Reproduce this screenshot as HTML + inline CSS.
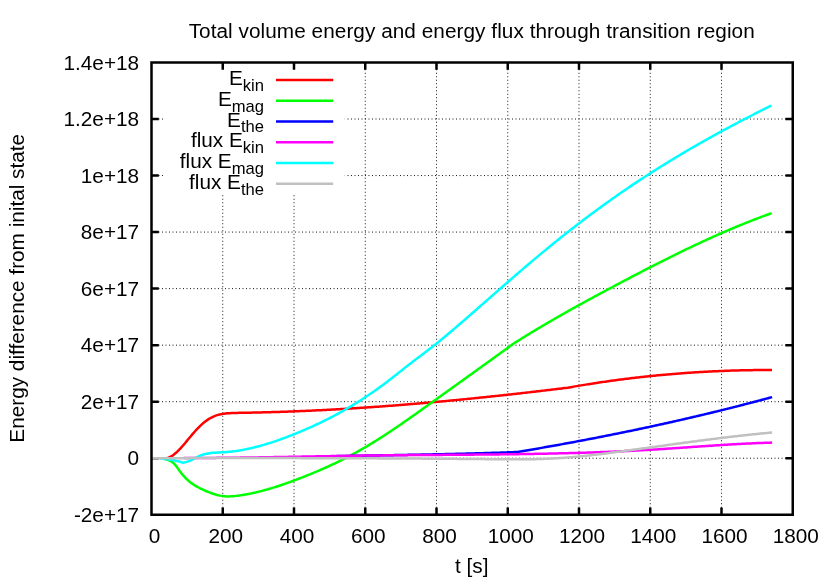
<!DOCTYPE html>
<html><head><meta charset="utf-8"><title>plot</title>
<style>
html,body{margin:0;padding:0;background:#fff;}
body{width:830px;height:581px;overflow:hidden;}
svg{display:block;will-change:transform;font-family:"Liberation Sans",sans-serif;fill:#000;}
.g{stroke:#000;stroke-width:1;stroke-dasharray:1 2.5;fill:none;opacity:.92}
.c{fill:none;stroke-width:2.5;stroke-linejoin:round;stroke-linecap:butt}
.t{stroke:#000;stroke-width:2.5;fill:none}
text{font-size:20.75px}
</style></head><body>
<svg width="830" height="581" viewBox="0 0 830 581">
<rect width="830" height="581" fill="#fff"/>
<path class="g" d="M222.75,514.75V62.5 M294.00,514.75V62.5 M365.25,514.75V62.5 M436.50,514.75V62.5 M507.75,514.75V62.5 M579.00,514.75V62.5 M650.25,514.75V62.5 M721.50,514.75V62.5 M151.5,458.22H792.75 M151.5,401.69H792.75 M151.5,345.16H792.75 M151.5,288.62H792.75 M151.5,232.09H792.75 M151.5,175.56H792.75 M151.5,119.03H792.75"/>
<rect x="163.3" y="64" width="181.5" height="130.3" fill="#fff"/>
<path class="t" d="M222.75,514.75v-7.3M222.75,62.5v7.3 M294.00,514.75v-7.3M294.00,62.5v7.3 M365.25,514.75v-7.3M365.25,62.5v7.3 M436.50,514.75v-7.3M436.50,62.5v7.3 M507.75,514.75v-7.3M507.75,62.5v7.3 M579.00,514.75v-7.3M579.00,62.5v7.3 M650.25,514.75v-7.3M650.25,62.5v7.3 M721.50,514.75v-7.3M721.50,62.5v7.3 M151.5,458.22h7.3M792.75,458.22h-7.3 M151.5,401.69h7.3M792.75,401.69h-7.3 M151.5,345.16h7.3M792.75,345.16h-7.3 M151.5,288.62h7.3M792.75,288.62h-7.3 M151.5,232.09h7.3M792.75,232.09h-7.3 M151.5,175.56h7.3M792.75,175.56h-7.3 M151.5,119.03h7.3M792.75,119.03h-7.3"/>
<path class="c" stroke="#ff0000" d="M164.0,458.20 L165.5,458.23 L167.0,458.03 L168.5,457.61 L170.0,456.99 L171.5,456.19 L173.0,455.21 L174.5,454.08 L176.0,452.82 L177.5,451.43 L179.0,449.93 L180.5,448.35 L182.0,446.68 L183.5,444.96 L185.0,443.19 L186.5,441.39 L188.0,439.57 L189.5,437.76 L191.0,435.95 L192.5,434.18 L194.0,432.45 L195.5,430.76 L197.0,429.14 L198.5,427.57 L200.0,426.08 L201.5,424.66 L203.0,423.33 L204.5,422.09 L206.0,420.94 L207.5,419.88 L209.0,418.92 L210.5,418.04 L212.0,417.25 L213.5,416.55 L215.0,415.92 L216.5,415.37 L218.0,414.90 L219.5,414.50 L221.0,414.16 L222.5,413.88 L224.0,413.65 L225.5,413.47 L227.0,413.33 L228.5,413.21 L230.0,413.13 L231.5,413.07 L233.0,413.02 L234.5,412.97 L236.0,412.94 L237.5,412.90 L239.0,412.87 L240.5,412.84 L242.0,412.81 L243.5,412.78 L245.0,412.75 L246.5,412.72 L248.0,412.70 L249.5,412.67 L251.0,412.64 L252.5,412.61 L254.0,412.58 L255.5,412.55 L257.0,412.51 L258.5,412.48 L260.0,412.44 L261.5,412.41 L263.0,412.37 L264.5,412.33 L266.0,412.29 L267.5,412.25 L269.0,412.21 L270.5,412.17 L272.0,412.12 L273.5,412.08 L275.0,412.03 L276.5,411.99 L278.0,411.94 L279.5,411.89 L281.0,411.84 L282.5,411.79 L284.0,411.74 L285.5,411.69 L287.0,411.63 L288.5,411.58 L290.0,411.52 L291.5,411.47 L293.0,411.41 L294.5,411.35 L296.0,411.29 L297.5,411.23 L299.0,411.17 L300.5,411.11 L302.0,411.05 L303.5,410.98 L305.0,410.92 L306.5,410.85 L308.0,410.78 L309.5,410.72 L311.0,410.65 L312.5,410.58 L314.0,410.51 L315.5,410.44 L317.0,410.36 L318.5,410.29 L320.0,410.22 L321.5,410.14 L323.0,410.06 L324.5,409.99 L326.0,409.91 L327.5,409.83 L329.0,409.75 L330.5,409.67 L332.0,409.59 L333.5,409.51 L335.0,409.42 L336.5,409.34 L338.0,409.25 L339.5,409.17 L341.0,409.08 L342.5,408.99 L344.0,408.90 L345.5,408.81 L347.0,408.72 L348.5,408.63 L350.0,408.54 L351.5,408.45 L353.0,408.36 L354.5,408.26 L356.0,408.17 L357.5,408.07 L359.0,407.97 L360.5,407.87 L362.0,407.78 L363.5,407.68 L365.0,407.58 L366.5,407.47 L368.0,407.37 L369.5,407.27 L371.0,407.17 L372.5,407.06 L374.0,406.96 L375.5,406.85 L377.0,406.74 L378.5,406.64 L380.0,406.53 L381.5,406.42 L383.0,406.31 L384.5,406.20 L386.0,406.09 L387.5,405.97 L389.0,405.86 L390.5,405.75 L392.0,405.63 L393.5,405.52 L395.0,405.40 L396.5,405.28 L398.0,405.17 L399.5,405.05 L401.0,404.93 L402.5,404.81 L404.0,404.69 L405.5,404.57 L407.0,404.44 L408.5,404.32 L410.0,404.20 L411.5,404.07 L413.0,403.95 L414.5,403.82 L416.0,403.70 L417.5,403.57 L419.0,403.44 L420.5,403.31 L422.0,403.18 L423.5,403.05 L425.0,402.92 L426.5,402.79 L428.0,402.66 L429.5,402.52 L431.0,402.39 L432.5,402.26 L434.0,402.12 L435.5,401.99 L437.0,401.85 L438.5,401.71 L440.0,401.57 L441.5,401.44 L443.0,401.30 L444.5,401.16 L446.0,401.02 L447.5,400.88 L449.0,400.73 L450.5,400.59 L452.0,400.45 L453.5,400.31 L455.0,400.16 L456.5,400.02 L458.0,399.87 L459.5,399.72 L461.0,399.58 L462.5,399.43 L464.0,399.28 L465.5,399.13 L467.0,398.98 L468.5,398.83 L470.0,398.68 L471.5,398.53 L473.0,398.38 L474.5,398.23 L476.0,398.08 L477.5,397.92 L479.0,397.77 L480.5,397.61 L482.0,397.46 L483.5,397.30 L485.0,397.15 L486.5,396.99 L488.0,396.83 L489.5,396.67 L491.0,396.51 L492.5,396.35 L494.0,396.19 L495.5,396.03 L497.0,395.87 L498.5,395.71 L500.0,395.55 L501.5,395.39 L503.0,395.22 L504.5,395.06 L506.0,394.89 L507.5,394.73 L509.0,394.56 L510.5,394.40 L512.0,394.23 L513.5,394.06 L515.0,393.90 L516.5,393.73 L518.0,393.56 L519.5,393.39 L521.0,393.22 L522.5,393.05 L524.0,392.88 L525.5,392.71 L527.0,392.54 L528.5,392.37 L530.0,392.19 L531.5,392.02 L533.0,391.85 L534.5,391.67 L536.0,391.50 L537.5,391.32 L539.0,391.15 L540.5,390.97 L542.0,390.80 L543.5,390.62 L545.0,390.44 L546.5,390.26 L548.0,390.09 L549.5,389.91 L551.0,389.73 L552.5,389.55 L554.0,389.37 L555.5,389.19 L557.0,389.01 L558.5,388.83 L560.0,388.64 L561.5,388.46 L563.0,388.28 L564.5,388.10 L566.0,387.91 L567.5,387.73 L567.7,387.70 L569.2,387.43 L570.7,387.16 L572.2,386.90 L573.7,386.64 L575.2,386.38 L576.7,386.13 L578.2,385.87 L579.7,385.62 L581.2,385.37 L582.7,385.12 L584.2,384.88 L585.7,384.63 L587.2,384.39 L588.7,384.15 L590.2,383.91 L591.7,383.68 L593.2,383.45 L594.7,383.21 L596.2,382.98 L597.7,382.76 L599.2,382.53 L600.7,382.31 L602.2,382.09 L603.7,381.87 L605.2,381.65 L606.7,381.44 L608.2,381.23 L609.7,381.02 L611.2,380.81 L612.7,380.60 L614.2,380.40 L615.7,380.19 L617.2,379.99 L618.7,379.79 L620.2,379.60 L621.7,379.40 L623.2,379.21 L624.7,379.02 L626.2,378.83 L627.7,378.65 L629.2,378.46 L630.7,378.28 L632.2,378.10 L633.7,377.92 L635.2,377.75 L636.7,377.57 L638.2,377.40 L639.7,377.23 L641.2,377.06 L642.7,376.90 L644.2,376.73 L645.7,376.57 L647.2,376.41 L648.7,376.26 L650.2,376.10 L651.7,375.95 L653.2,375.79 L654.7,375.64 L656.2,375.50 L657.7,375.35 L659.2,375.21 L660.7,375.06 L662.2,374.93 L663.7,374.79 L665.2,374.65 L666.7,374.52 L668.2,374.39 L669.7,374.26 L671.2,374.13 L672.7,374.00 L674.2,373.88 L675.7,373.76 L677.2,373.64 L678.7,373.52 L680.2,373.40 L681.7,373.29 L683.2,373.18 L684.7,373.07 L686.2,372.96 L687.7,372.85 L689.2,372.75 L690.7,372.65 L692.2,372.55 L693.7,372.45 L695.2,372.35 L696.7,372.26 L698.2,372.16 L699.7,372.07 L701.2,371.99 L702.7,371.90 L704.2,371.81 L705.7,371.73 L707.2,371.65 L708.7,371.57 L710.2,371.50 L711.7,371.42 L713.2,371.35 L714.7,371.28 L716.2,371.21 L717.7,371.14 L719.2,371.08 L720.7,371.01 L722.2,370.95 L723.7,370.89 L725.2,370.83 L726.7,370.78 L728.2,370.72 L729.7,370.67 L731.2,370.62 L732.7,370.58 L734.2,370.53 L735.7,370.49 L737.2,370.44 L738.7,370.40 L740.2,370.36 L741.7,370.33 L743.2,370.29 L744.7,370.26 L746.2,370.23 L747.7,370.20 L749.2,370.17 L750.7,370.15 L752.2,370.13 L753.7,370.10 L755.2,370.09 L756.7,370.07 L758.2,370.05 L759.7,370.04 L761.2,370.03 L762.7,370.02 L764.2,370.01 L765.7,370.00 L767.2,370.00 L768.7,370.00 L770.2,370.00 L771.7,370.00 L772.0,370.00"/>
<path class="c" stroke="#00ff00" d="M163.0,458.20 L164.5,458.80 L166.0,459.29 L167.5,459.75 L169.0,460.29 L170.5,460.99 L172.0,461.94 L173.5,463.15 L175.0,464.65 L176.5,466.47 L178.0,468.60 L179.5,470.78 L181.0,472.82 L182.5,474.69 L184.0,476.40 L185.5,477.98 L187.0,479.43 L188.5,480.77 L190.0,481.99 L191.5,483.13 L193.0,484.18 L194.5,485.16 L196.0,486.08 L197.5,486.94 L199.0,487.75 L200.5,488.51 L202.0,489.24 L203.5,489.93 L205.0,490.59 L206.5,491.24 L208.0,491.86 L209.5,492.45 L211.0,493.01 L212.5,493.55 L214.0,494.04 L215.5,494.50 L217.0,494.92 L218.5,495.29 L220.0,495.61 L221.5,495.88 L223.0,496.09 L224.5,496.24 L226.0,496.34 L227.5,496.40 L229.0,496.40 L230.5,496.37 L232.0,496.29 L233.5,496.18 L235.0,496.05 L236.5,495.88 L238.0,495.70 L239.5,495.50 L241.0,495.28 L242.5,495.05 L244.0,494.80 L245.5,494.54 L247.0,494.27 L248.5,493.99 L250.0,493.69 L251.5,493.38 L253.0,493.06 L254.5,492.72 L256.0,492.38 L257.5,492.02 L259.0,491.65 L260.5,491.27 L262.0,490.88 L263.5,490.48 L265.0,490.07 L266.5,489.65 L268.0,489.23 L269.5,488.79 L271.0,488.34 L272.5,487.88 L274.0,487.42 L275.5,486.95 L277.0,486.47 L278.5,485.98 L280.0,485.48 L281.5,484.98 L283.0,484.47 L284.5,483.95 L286.0,483.43 L287.5,482.90 L289.0,482.36 L290.5,481.82 L292.0,481.27 L293.5,480.72 L295.0,480.17 L296.5,479.61 L298.0,479.04 L299.5,478.47 L301.0,477.89 L302.5,477.31 L304.0,476.72 L305.5,476.13 L307.0,475.53 L308.5,474.93 L310.0,474.32 L311.5,473.71 L313.0,473.09 L314.5,472.46 L316.0,471.83 L317.5,471.19 L319.0,470.55 L320.5,469.90 L322.0,469.24 L323.5,468.58 L325.0,467.91 L326.5,467.24 L328.0,466.56 L329.5,465.87 L331.0,465.17 L332.5,464.47 L334.0,463.76 L335.5,463.04 L337.0,462.32 L338.5,461.59 L340.0,460.85 L341.5,460.10 L343.0,459.35 L344.5,458.59 L346.0,457.82 L347.5,457.05 L349.0,456.26 L350.5,455.47 L352.0,454.67 L353.5,453.87 L355.0,453.05 L356.5,452.23 L358.0,451.39 L359.5,450.55 L361.0,449.70 L362.5,448.85 L364.0,447.98 L365.5,447.10 L367.0,446.22 L368.5,445.33 L370.0,444.43 L371.5,443.52 L373.0,442.60 L374.5,441.68 L376.0,440.74 L377.5,439.80 L379.0,438.86 L380.5,437.90 L382.0,436.94 L383.5,435.97 L385.0,435.00 L386.5,434.02 L388.0,433.03 L389.5,432.04 L391.0,431.04 L392.5,430.04 L394.0,429.03 L395.5,428.01 L397.0,426.99 L398.5,425.97 L400.0,424.94 L401.5,423.91 L403.0,422.87 L404.5,421.83 L406.0,420.79 L407.5,419.74 L409.0,418.69 L410.5,417.64 L412.0,416.58 L413.5,415.52 L415.0,414.46 L416.5,413.40 L418.0,412.33 L419.5,411.26 L421.0,410.19 L422.5,409.12 L424.0,408.05 L425.5,406.98 L427.0,405.90 L428.5,404.83 L430.0,403.75 L431.5,402.68 L433.0,401.60 L434.5,400.52 L436.0,399.45 L437.5,398.37 L439.0,397.30 L440.5,396.22 L442.0,395.15 L443.5,394.07 L445.0,393.00 L446.5,391.92 L448.0,390.85 L449.5,389.78 L451.0,388.70 L452.5,387.63 L454.0,386.55 L455.5,385.48 L457.0,384.40 L458.5,383.33 L460.0,382.25 L461.5,381.18 L463.0,380.11 L464.5,379.03 L466.0,377.95 L467.5,376.88 L469.0,375.80 L470.5,374.73 L472.0,373.65 L473.5,372.57 L475.0,371.50 L476.5,370.42 L478.0,369.34 L479.5,368.26 L481.0,367.18 L482.5,366.10 L484.0,365.02 L485.5,363.94 L487.0,362.86 L488.5,361.78 L490.0,360.70 L491.5,359.62 L493.0,358.53 L494.5,357.45 L496.0,356.36 L497.5,355.28 L499.0,354.19 L500.5,353.10 L502.0,352.01 L503.5,350.92 L505.0,349.83 L506.5,348.74 L508.0,347.65 L509.5,346.56 L511.0,345.46 L512.5,344.37 L513.0,344.00 L514.5,343.02 L516.0,342.07 L517.5,341.13 L519.0,340.19 L520.5,339.25 L522.0,338.31 L523.5,337.38 L525.0,336.46 L526.5,335.53 L528.0,334.62 L529.5,333.70 L531.0,332.79 L532.5,331.88 L534.0,330.97 L535.5,330.07 L537.0,329.17 L538.5,328.28 L540.0,327.38 L541.5,326.49 L543.0,325.61 L544.5,324.72 L546.0,323.84 L547.5,322.97 L549.0,322.09 L550.5,321.22 L552.0,320.35 L553.5,319.48 L555.0,318.62 L556.5,317.76 L558.0,316.90 L559.5,316.05 L561.0,315.19 L562.5,314.34 L564.0,313.49 L565.5,312.65 L567.0,311.80 L568.5,310.96 L570.0,310.12 L571.5,309.28 L573.0,308.45 L574.5,307.62 L576.0,306.78 L577.5,305.95 L579.0,305.13 L580.5,304.30 L582.0,303.48 L583.5,302.65 L585.0,301.83 L586.5,301.01 L588.0,300.20 L589.5,299.38 L591.0,298.57 L592.5,297.75 L594.0,296.94 L595.5,296.13 L597.0,295.32 L598.5,294.51 L600.0,293.71 L601.5,292.90 L603.0,292.10 L604.5,291.29 L606.0,290.49 L607.5,289.69 L609.0,288.89 L610.5,288.09 L612.0,287.29 L613.5,286.49 L615.0,285.69 L616.5,284.90 L618.0,284.10 L619.5,283.30 L621.0,282.51 L622.5,281.72 L624.0,280.92 L625.5,280.13 L627.0,279.34 L628.5,278.55 L630.0,277.77 L631.5,276.98 L633.0,276.19 L634.5,275.41 L636.0,274.63 L637.5,273.85 L639.0,273.07 L640.5,272.29 L642.0,271.51 L643.5,270.73 L645.0,269.96 L646.5,269.19 L648.0,268.41 L649.5,267.64 L651.0,266.88 L652.5,266.11 L654.0,265.34 L655.5,264.58 L657.0,263.82 L658.5,263.06 L660.0,262.30 L661.5,261.54 L663.0,260.79 L664.5,260.04 L666.0,259.29 L667.5,258.54 L669.0,257.79 L670.5,257.05 L672.0,256.30 L673.5,255.56 L675.0,254.82 L676.5,254.09 L678.0,253.35 L679.5,252.62 L681.0,251.89 L682.5,251.16 L684.0,250.44 L685.5,249.72 L687.0,248.99 L688.5,248.28 L690.0,247.56 L691.5,246.85 L693.0,246.14 L694.5,245.43 L696.0,244.72 L697.5,244.02 L699.0,243.32 L700.5,242.62 L702.0,241.93 L703.5,241.23 L705.0,240.54 L706.5,239.86 L708.0,239.17 L709.5,238.49 L711.0,237.81 L712.5,237.14 L714.0,236.47 L715.5,235.80 L717.0,235.13 L718.5,234.47 L720.0,233.81 L721.5,233.15 L723.0,232.49 L724.5,231.84 L726.0,231.20 L727.5,230.55 L729.0,229.91 L730.5,229.27 L732.0,228.64 L733.5,228.01 L735.0,227.38 L736.5,226.75 L738.0,226.13 L739.5,225.51 L741.0,224.90 L742.5,224.29 L744.0,223.68 L745.5,223.08 L747.0,222.48 L748.5,221.88 L750.0,221.29 L751.5,220.70 L753.0,220.12 L754.5,219.54 L756.0,218.96 L757.5,218.39 L759.0,217.82 L760.5,217.25 L762.0,216.69 L763.5,216.13 L765.0,215.58 L766.5,215.03 L768.0,214.49 L769.5,213.95 L771.0,213.41 L771.6,213.19"/>
<path class="c" stroke="#0000ff" d="M330.0,456.25 L331.5,456.22 L333.0,456.19 L334.5,456.17 L336.0,456.14 L337.5,456.11 L339.0,456.09 L340.5,456.06 L342.0,456.03 L343.5,456.01 L345.0,455.98 L346.5,455.95 L348.0,455.93 L349.5,455.90 L351.0,455.87 L352.5,455.85 L354.0,455.82 L355.5,455.80 L357.0,455.77 L358.5,455.74 L360.0,455.72 L361.5,455.69 L363.0,455.67 L364.5,455.64 L366.0,455.61 L367.5,455.59 L369.0,455.56 L370.5,455.54 L372.0,455.51 L373.5,455.48 L375.0,455.46 L376.5,455.43 L378.0,455.41 L379.5,455.38 L381.0,455.35 L382.5,455.33 L384.0,455.30 L385.5,455.28 L387.0,455.25 L388.5,455.22 L390.0,455.20 L391.5,455.17 L393.0,455.14 L394.5,455.12 L396.0,455.09 L397.5,455.06 L399.0,455.04 L400.5,455.01 L402.0,454.98 L403.5,454.96 L405.0,454.93 L406.5,454.90 L408.0,454.87 L409.5,454.84 L411.0,454.82 L412.5,454.79 L414.0,454.76 L415.5,454.73 L417.0,454.70 L418.5,454.67 L420.0,454.64 L421.5,454.61 L423.0,454.58 L424.5,454.55 L426.0,454.52 L427.5,454.49 L429.0,454.46 L430.5,454.43 L432.0,454.40 L433.5,454.37 L435.0,454.34 L436.5,454.30 L438.0,454.27 L439.5,454.24 L441.0,454.21 L442.5,454.17 L444.0,454.14 L445.5,454.11 L447.0,454.07 L448.5,454.04 L450.0,454.00 L451.5,453.97 L453.0,453.93 L454.5,453.90 L456.0,453.86 L457.5,453.82 L459.0,453.79 L460.5,453.75 L462.0,453.71 L463.5,453.67 L465.0,453.64 L466.5,453.60 L468.0,453.56 L469.5,453.52 L471.0,453.48 L472.5,453.44 L474.0,453.40 L475.5,453.36 L477.0,453.31 L478.5,453.27 L480.0,453.23 L481.5,453.19 L483.0,453.14 L484.5,453.10 L486.0,453.05 L487.5,453.01 L489.0,452.96 L490.5,452.92 L492.0,452.87 L493.5,452.82 L495.0,452.78 L496.5,452.73 L498.0,452.68 L499.5,452.63 L501.0,452.58 L502.5,452.53 L504.0,452.48 L505.5,452.43 L507.0,452.38 L508.5,452.33 L510.0,452.27 L511.5,452.22 L513.0,452.17 L514.5,452.11 L516.0,452.06 L517.5,452.00 L519.0,451.75 L520.5,451.49 L522.0,451.24 L523.5,450.98 L525.0,450.73 L526.5,450.47 L528.0,450.22 L529.5,449.96 L531.0,449.70 L532.5,449.44 L534.0,449.18 L535.5,448.92 L537.0,448.66 L538.5,448.40 L540.0,448.14 L541.5,447.87 L543.0,447.61 L544.5,447.34 L546.0,447.08 L547.5,446.81 L549.0,446.55 L550.5,446.28 L552.0,446.01 L553.5,445.74 L555.0,445.47 L556.5,445.20 L558.0,444.93 L559.5,444.66 L561.0,444.39 L562.5,444.11 L564.0,443.84 L565.5,443.56 L567.0,443.29 L568.5,443.01 L570.0,442.73 L571.5,442.45 L573.0,442.18 L574.5,441.90 L576.0,441.62 L577.5,441.33 L579.0,441.05 L580.5,440.77 L582.0,440.49 L583.5,440.20 L585.0,439.92 L586.5,439.63 L588.0,439.34 L589.5,439.06 L591.0,438.77 L592.5,438.48 L594.0,438.19 L595.5,437.90 L597.0,437.61 L598.5,437.31 L600.0,437.02 L601.5,436.73 L603.0,436.43 L604.5,436.14 L606.0,435.84 L607.5,435.54 L609.0,435.24 L610.5,434.94 L612.0,434.64 L613.5,434.34 L615.0,434.04 L616.5,433.74 L618.0,433.43 L619.5,433.13 L621.0,432.83 L622.5,432.52 L624.0,432.21 L625.5,431.90 L627.0,431.60 L628.5,431.29 L630.0,430.98 L631.5,430.66 L633.0,430.35 L634.5,430.04 L636.0,429.72 L637.5,429.41 L639.0,429.09 L640.5,428.78 L642.0,428.46 L643.5,428.14 L645.0,427.82 L646.5,427.50 L648.0,427.18 L649.5,426.86 L651.0,426.53 L652.5,426.21 L654.0,425.88 L655.5,425.56 L657.0,425.23 L658.5,424.90 L660.0,424.57 L661.5,424.24 L663.0,423.91 L664.5,423.58 L666.0,423.25 L667.5,422.91 L669.0,422.58 L670.5,422.24 L672.0,421.91 L673.5,421.57 L675.0,421.23 L676.5,420.89 L678.0,420.55 L679.5,420.21 L681.0,419.87 L682.5,419.52 L684.0,419.18 L685.5,418.83 L687.0,418.49 L688.5,418.14 L690.0,417.79 L691.5,417.44 L693.0,417.09 L694.5,416.74 L696.0,416.39 L697.5,416.03 L699.0,415.68 L700.5,415.32 L702.0,414.97 L703.5,414.61 L705.0,414.25 L706.5,413.89 L708.0,413.53 L709.5,413.17 L711.0,412.80 L712.5,412.44 L714.0,412.08 L715.5,411.71 L717.0,411.34 L718.5,410.97 L720.0,410.61 L721.5,410.23 L723.0,409.86 L724.5,409.49 L726.0,409.12 L727.5,408.74 L729.0,408.37 L730.5,407.99 L732.0,407.61 L733.5,407.23 L735.0,406.85 L736.5,406.47 L738.0,406.09 L739.5,405.71 L741.0,405.32 L742.5,404.94 L744.0,404.55 L745.5,404.16 L747.0,403.77 L748.5,403.38 L750.0,402.99 L751.5,402.60 L753.0,402.21 L754.5,401.81 L756.0,401.42 L757.5,401.02 L759.0,400.62 L760.5,400.22 L762.0,399.82 L763.5,399.42 L765.0,399.02 L766.5,398.62 L768.0,398.21 L769.5,397.81 L771.0,397.40 L772.1,397.10"/>
<path class="c" stroke="#ff00ff" d="M184.0,458.00 L185.5,458.00 L187.0,458.00 L188.5,458.00 L190.0,458.00 L191.5,458.00 L193.0,457.99 L194.5,457.99 L196.0,457.99 L197.5,457.98 L199.0,457.98 L200.5,457.97 L202.0,457.96 L203.5,457.96 L205.0,457.95 L206.5,457.94 L208.0,457.93 L209.5,457.92 L211.0,457.91 L212.5,457.90 L214.0,457.89 L215.5,457.88 L217.0,457.87 L218.5,457.86 L220.0,457.84 L221.5,457.83 L223.0,457.82 L224.5,457.80 L226.0,457.79 L227.5,457.77 L229.0,457.76 L230.5,457.74 L232.0,457.72 L233.5,457.71 L235.0,457.69 L236.5,457.67 L238.0,457.65 L239.5,457.63 L241.0,457.61 L242.5,457.59 L244.0,457.57 L245.5,457.55 L247.0,457.53 L248.5,457.51 L250.0,457.49 L251.5,457.47 L253.0,457.45 L254.5,457.42 L256.0,457.40 L257.5,457.38 L259.0,457.36 L260.5,457.33 L262.0,457.31 L263.5,457.29 L265.0,457.26 L266.5,457.24 L268.0,457.21 L269.5,457.19 L271.0,457.16 L272.5,457.14 L274.0,457.11 L275.5,457.09 L277.0,457.06 L278.5,457.04 L280.0,457.01 L281.5,456.98 L283.0,456.96 L284.5,456.93 L286.0,456.90 L287.5,456.88 L289.0,456.85 L290.5,456.82 L292.0,456.80 L293.5,456.77 L295.0,456.74 L296.5,456.72 L298.0,456.69 L299.5,456.66 L301.0,456.63 L302.5,456.61 L304.0,456.58 L305.5,456.55 L307.0,456.53 L308.5,456.50 L310.0,456.47 L311.5,456.44 L313.0,456.42 L314.5,456.39 L316.0,456.36 L317.5,456.34 L319.0,456.31 L320.5,456.28 L322.0,456.26 L323.5,456.23 L325.0,456.20 L326.5,456.18 L328.0,456.15 L329.5,456.13 L331.0,456.10 L332.5,456.07 L334.0,456.05 L335.5,456.02 L337.0,456.00 L338.5,455.97 L340.0,455.95 L341.5,455.92 L343.0,455.90 L344.5,455.88 L346.0,455.85 L347.5,455.83 L349.0,455.81 L350.5,455.78 L352.0,455.76 L353.5,455.74 L355.0,455.72 L356.5,455.69 L358.0,455.67 L359.5,455.65 L361.0,455.63 L362.5,455.61 L364.0,455.59 L365.5,455.57 L367.0,455.55 L368.5,455.53 L370.0,455.51 L371.5,455.50 L373.0,455.48 L374.5,455.46 L376.0,455.44 L377.5,455.42 L379.0,455.41 L380.5,455.39 L382.0,455.38 L383.5,455.36 L385.0,455.34 L386.5,455.33 L388.0,455.31 L389.5,455.30 L391.0,455.28 L392.5,455.27 L394.0,455.26 L395.5,455.24 L397.0,455.23 L398.5,455.21 L400.0,455.20 L401.5,455.19 L403.0,455.17 L404.5,455.16 L406.0,455.15 L407.5,455.14 L409.0,455.12 L410.5,455.11 L412.0,455.10 L413.5,455.09 L415.0,455.08 L416.5,455.07 L418.0,455.05 L419.5,455.04 L421.0,455.03 L422.5,455.02 L424.0,455.01 L425.5,455.00 L427.0,454.99 L428.5,454.98 L430.0,454.96 L431.5,454.95 L433.0,454.94 L434.5,454.93 L436.0,454.92 L437.5,454.91 L439.0,454.90 L440.5,454.89 L442.0,454.88 L443.5,454.87 L445.0,454.86 L446.5,454.84 L448.0,454.83 L449.5,454.82 L451.0,454.81 L452.5,454.80 L454.0,454.79 L455.5,454.78 L457.0,454.77 L458.5,454.76 L460.0,454.74 L461.5,454.73 L463.0,454.72 L464.5,454.71 L466.0,454.70 L467.5,454.68 L469.0,454.67 L470.5,454.66 L472.0,454.65 L473.5,454.63 L475.0,454.62 L476.5,454.61 L478.0,454.59 L479.5,454.58 L481.0,454.57 L482.5,454.55 L484.0,454.54 L485.5,454.52 L487.0,454.51 L488.5,454.49 L490.0,454.48 L491.5,454.46 L493.0,454.45 L494.5,454.43 L496.0,454.42 L497.5,454.40 L499.0,454.38 L500.5,454.36 L502.0,454.35 L503.5,454.33 L505.0,454.31 L506.5,454.29 L508.0,454.27 L509.5,454.25 L511.0,454.23 L512.5,454.21 L514.0,454.19 L515.5,454.17 L517.0,454.15 L518.5,454.13 L520.0,454.11 L521.5,454.09 L523.0,454.06 L524.5,454.04 L526.0,454.02 L527.5,453.99 L529.0,453.97 L530.5,453.94 L532.0,453.92 L533.5,453.89 L535.0,453.87 L536.5,453.84 L538.0,453.81 L539.5,453.78 L541.0,453.76 L542.5,453.73 L544.0,453.70 L545.5,453.67 L547.0,453.64 L548.5,453.61 L550.0,453.57 L551.5,453.54 L553.0,453.51 L554.5,453.48 L556.0,453.44 L557.5,453.41 L559.0,453.37 L560.5,453.34 L562.0,453.30 L563.5,453.26 L565.0,453.23 L566.5,453.19 L568.0,453.15 L569.5,453.11 L571.0,453.07 L572.5,453.03 L574.0,452.99 L575.5,452.95 L577.0,452.90 L578.5,452.86 L580.0,452.82 L581.5,452.77 L583.0,452.72 L584.5,452.68 L586.0,452.63 L587.5,452.58 L589.0,452.53 L590.5,452.48 L592.0,452.43 L593.5,452.38 L595.0,452.33 L596.5,452.28 L598.0,452.22 L599.5,452.17 L601.0,452.11 L602.5,452.06 L604.0,452.00 L605.5,451.94 L607.0,451.88 L608.5,451.82 L610.0,451.76 L611.5,451.70 L613.0,451.64 L614.5,451.58 L616.0,451.51 L617.5,451.45 L619.0,451.38 L620.5,451.31 L622.0,451.24 L623.5,451.18 L625.0,451.11 L626.5,451.03 L628.0,450.96 L629.5,450.89 L631.0,450.81 L632.5,450.74 L634.0,450.66 L635.5,450.59 L637.0,450.51 L638.5,450.43 L640.0,450.35 L641.5,450.27 L643.0,450.18 L644.5,450.10 L646.0,450.01 L647.5,449.93 L649.0,449.84 L650.5,449.75 L652.0,449.66 L653.5,449.57 L655.0,449.48 L656.5,449.39 L658.0,449.30 L659.5,449.20 L661.0,449.11 L662.5,449.01 L664.0,448.91 L665.5,448.81 L667.0,448.72 L668.5,448.62 L670.0,448.52 L671.5,448.42 L673.0,448.32 L674.5,448.21 L676.0,448.11 L677.5,448.01 L679.0,447.91 L680.5,447.80 L682.0,447.70 L683.5,447.60 L685.0,447.49 L686.5,447.39 L688.0,447.29 L689.5,447.18 L691.0,447.08 L692.5,446.97 L694.0,446.87 L695.5,446.76 L697.0,446.66 L698.5,446.56 L700.0,446.45 L701.5,446.35 L703.0,446.25 L704.5,446.15 L706.0,446.04 L707.5,445.94 L709.0,445.84 L710.5,445.74 L712.0,445.64 L713.5,445.54 L715.0,445.44 L716.5,445.34 L718.0,445.25 L719.5,445.15 L721.0,445.05 L722.5,444.96 L724.0,444.87 L725.5,444.77 L727.0,444.68 L728.5,444.59 L730.0,444.50 L731.5,444.41 L733.0,444.32 L734.5,444.24 L736.0,444.15 L737.5,444.07 L739.0,443.99 L740.5,443.91 L742.0,443.83 L743.5,443.75 L745.0,443.67 L746.5,443.60 L748.0,443.52 L749.5,443.45 L751.0,443.38 L752.5,443.31 L754.0,443.25 L755.5,443.18 L757.0,443.12 L758.5,443.06 L760.0,443.00 L761.5,442.94 L763.0,442.89 L764.5,442.83 L766.0,442.78 L767.5,442.73 L769.0,442.69 L770.5,442.64 L772.0,442.60 L772.1,442.60"/>
<path class="c" stroke="#00ffff" d="M160.0,458.20 L161.5,458.48 L163.0,458.73 L164.5,458.96 L166.0,459.17 L167.5,459.37 L169.0,459.58 L170.5,459.79 L172.0,460.01 L173.5,460.26 L175.0,460.54 L176.5,460.86 L178.0,461.22 L179.5,461.64 L181.0,462.11 L182.5,462.66 L182.6,462.70 L184.1,462.47 L185.6,462.13 L187.1,461.71 L188.6,461.19 L190.1,460.58 L191.6,459.90 L193.1,459.17 L194.6,458.40 L196.1,457.63 L197.6,456.88 L199.1,456.17 L200.6,455.52 L202.1,454.95 L203.6,454.46 L205.1,454.05 L206.6,453.71 L208.1,453.42 L209.6,453.19 L211.1,453.00 L212.6,452.85 L214.1,452.73 L215.6,452.64 L217.1,452.56 L218.6,452.50 L220.1,452.43 L221.6,452.37 L223.1,452.29 L224.6,452.19 L226.1,452.09 L227.6,451.96 L229.1,451.82 L230.6,451.67 L232.1,451.50 L233.6,451.32 L235.1,451.12 L236.6,450.91 L238.1,450.68 L239.6,450.44 L241.1,450.19 L242.6,449.92 L244.1,449.64 L245.6,449.35 L247.1,449.04 L248.6,448.72 L250.1,448.39 L251.6,448.05 L253.1,447.70 L254.6,447.33 L256.1,446.96 L257.6,446.57 L259.1,446.17 L260.6,445.76 L262.1,445.34 L263.6,444.91 L265.1,444.46 L266.6,444.01 L268.1,443.55 L269.6,443.08 L271.1,442.60 L272.6,442.11 L274.1,441.61 L275.6,441.11 L277.1,440.59 L278.6,440.07 L280.1,439.54 L281.6,439.00 L283.1,438.45 L284.6,437.89 L286.1,437.33 L287.6,436.76 L289.1,436.18 L290.6,435.60 L292.1,435.01 L293.6,434.41 L295.1,433.81 L296.6,433.20 L298.1,432.59 L299.6,431.97 L301.1,431.34 L302.6,430.71 L304.1,430.07 L305.6,429.42 L307.1,428.77 L308.6,428.11 L310.1,427.44 L311.6,426.77 L313.1,426.09 L314.6,425.40 L316.1,424.70 L317.6,424.00 L319.1,423.29 L320.6,422.57 L322.1,421.84 L323.6,421.11 L325.1,420.37 L326.6,419.62 L328.1,418.86 L329.6,418.10 L331.1,417.32 L332.6,416.54 L334.1,415.75 L335.6,414.95 L337.1,414.15 L338.6,413.33 L340.1,412.51 L341.6,411.67 L343.1,410.83 L344.6,409.98 L346.1,409.12 L347.6,408.25 L349.1,407.37 L350.6,406.48 L352.1,405.59 L353.6,404.68 L355.1,403.76 L356.6,402.84 L358.1,401.90 L359.6,400.95 L361.1,400.00 L362.6,399.03 L364.1,398.05 L365.6,397.07 L367.1,396.07 L368.6,395.06 L370.1,394.05 L371.6,393.02 L373.1,391.98 L374.6,390.93 L376.1,389.87 L377.6,388.80 L379.1,387.71 L380.6,386.62 L382.1,385.51 L383.6,384.40 L385.1,383.27 L386.6,382.13 L388.1,380.98 L389.6,379.83 L391.1,378.67 L392.6,377.50 L394.1,376.33 L395.6,375.15 L397.1,373.97 L398.6,372.79 L400.1,371.61 L401.6,370.42 L403.1,369.24 L404.6,368.06 L406.1,366.88 L407.6,365.71 L409.1,364.54 L410.6,363.38 L412.1,362.22 L413.6,361.07 L415.1,359.93 L416.6,358.79 L418.1,357.66 L419.6,356.53 L421.1,355.40 L422.6,354.27 L424.1,353.14 L425.6,352.01 L427.1,350.87 L428.6,349.73 L430.1,348.58 L431.6,347.42 L433.1,346.25 L434.6,345.07 L436.1,343.88 L437.6,342.68 L439.1,341.47 L440.6,340.25 L442.1,339.02 L443.6,337.78 L445.1,336.53 L446.6,335.27 L448.1,334.01 L449.6,332.74 L451.1,331.47 L452.6,330.19 L454.1,328.90 L455.6,327.61 L457.1,326.32 L458.6,325.03 L460.1,323.73 L461.6,322.44 L463.1,321.14 L464.6,319.84 L466.1,318.53 L467.6,317.23 L469.1,315.92 L470.6,314.62 L472.1,313.31 L473.6,312.00 L475.1,310.69 L476.6,309.37 L478.1,308.06 L479.6,306.75 L481.1,305.43 L482.6,304.12 L484.1,302.80 L485.6,301.49 L487.1,300.17 L488.6,298.86 L490.1,297.54 L491.6,296.23 L493.1,294.91 L494.6,293.60 L496.1,292.28 L497.6,290.97 L499.1,289.66 L500.6,288.35 L502.1,287.03 L503.6,285.72 L505.1,284.42 L506.6,283.11 L508.1,281.80 L509.6,280.50 L511.1,279.19 L512.6,277.89 L514.1,276.59 L515.6,275.29 L517.1,274.00 L518.6,272.70 L520.1,271.41 L521.6,270.12 L523.1,268.84 L524.6,267.55 L526.1,266.27 L527.6,264.99 L529.1,263.72 L530.6,262.44 L532.1,261.17 L533.6,259.91 L535.1,258.64 L536.6,257.39 L538.1,256.13 L539.6,254.88 L541.1,253.63 L542.6,252.38 L544.1,251.14 L545.6,249.91 L547.1,248.67 L548.6,247.44 L550.1,246.22 L551.6,245.00 L553.1,243.78 L554.6,242.56 L556.1,241.35 L557.6,240.15 L559.1,238.95 L560.6,237.75 L562.1,236.55 L563.6,235.36 L565.1,234.18 L566.6,232.99 L568.1,231.82 L569.6,230.64 L571.1,229.47 L572.6,228.30 L574.1,227.14 L575.6,225.98 L577.1,224.82 L578.6,223.67 L580.1,222.53 L581.6,221.38 L583.1,220.24 L584.6,219.11 L586.1,217.98 L587.6,216.85 L589.1,215.72 L590.6,214.60 L592.1,213.49 L593.6,212.38 L595.1,211.27 L596.6,210.17 L598.1,209.07 L599.6,207.97 L601.1,206.88 L602.6,205.79 L604.1,204.71 L605.6,203.63 L607.1,202.55 L608.6,201.48 L610.1,200.41 L611.6,199.35 L613.1,198.29 L614.6,197.23 L616.1,196.18 L617.6,195.13 L619.1,194.09 L620.6,193.05 L622.1,192.01 L623.6,190.98 L625.1,189.95 L626.6,188.93 L628.1,187.91 L629.6,186.89 L631.1,185.88 L632.6,184.87 L634.1,183.87 L635.6,182.87 L637.1,181.87 L638.6,180.88 L640.1,179.89 L641.6,178.91 L643.1,177.93 L644.6,176.95 L646.1,175.98 L647.6,175.01 L649.1,174.04 L650.6,173.08 L652.1,172.12 L653.6,171.17 L655.1,170.22 L656.6,169.27 L658.1,168.33 L659.6,167.39 L661.1,166.45 L662.6,165.51 L664.1,164.58 L665.6,163.66 L667.1,162.73 L668.6,161.81 L670.1,160.90 L671.6,159.99 L673.1,159.08 L674.6,158.17 L676.1,157.27 L677.6,156.37 L679.1,155.47 L680.6,154.58 L682.1,153.68 L683.6,152.80 L685.1,151.91 L686.6,151.03 L688.1,150.15 L689.6,149.28 L691.1,148.41 L692.6,147.54 L694.1,146.67 L695.6,145.81 L697.1,144.95 L698.6,144.09 L700.1,143.24 L701.6,142.39 L703.1,141.54 L704.6,140.70 L706.1,139.85 L707.6,139.01 L709.1,138.18 L710.6,137.34 L712.1,136.51 L713.6,135.68 L715.1,134.85 L716.6,134.03 L718.1,133.21 L719.6,132.39 L721.1,131.57 L722.6,130.76 L724.1,129.95 L725.6,129.14 L727.1,128.34 L728.6,127.53 L730.1,126.73 L731.6,125.93 L733.1,125.14 L734.6,124.34 L736.1,123.55 L737.6,122.76 L739.1,121.98 L740.6,121.19 L742.1,120.41 L743.6,119.63 L745.1,118.85 L746.6,118.08 L748.1,117.30 L749.6,116.53 L751.1,115.76 L752.6,114.99 L754.1,114.23 L755.6,113.47 L757.1,112.70 L758.6,111.95 L760.1,111.19 L761.6,110.43 L763.1,109.68 L764.6,108.93 L766.1,108.18 L767.6,107.43 L769.1,106.68 L770.6,105.94 L771.3,105.59"/>
<path class="c" stroke="#c0c0c0" d="M151.5,458.20 L153.0,458.20 L154.5,458.19 L156.0,458.19 L157.5,458.19 L159.0,458.18 L160.5,458.18 L162.0,458.18 L163.5,458.17 L165.0,458.17 L166.5,458.17 L168.0,458.16 L169.5,458.16 L171.0,458.16 L172.5,458.15 L174.0,458.15 L175.5,458.15 L177.0,458.14 L178.5,458.14 L180.0,458.14 L181.5,458.14 L183.0,458.13 L184.5,458.13 L186.0,458.13 L187.5,458.13 L189.0,458.12 L190.5,458.12 L192.0,458.12 L193.5,458.12 L195.0,458.11 L196.5,458.11 L198.0,458.11 L199.5,458.11 L201.0,458.11 L202.5,458.10 L204.0,458.10 L205.5,458.10 L207.0,458.10 L208.5,458.10 L210.0,458.10 L211.5,458.09 L213.0,458.09 L214.5,458.09 L216.0,458.09 L217.5,458.09 L219.0,458.09 L220.5,458.09 L222.0,458.09 L223.5,458.09 L225.0,458.08 L226.5,458.08 L228.0,458.08 L229.5,458.08 L231.0,458.08 L232.5,458.08 L234.0,458.08 L235.5,458.08 L237.0,458.08 L238.5,458.08 L240.0,458.08 L241.5,458.08 L243.0,458.08 L244.5,458.08 L246.0,458.08 L247.5,458.08 L249.0,458.08 L250.5,458.08 L252.0,458.08 L253.5,458.08 L255.0,458.08 L256.5,458.08 L258.0,458.08 L259.5,458.08 L261.0,458.08 L262.5,458.08 L264.0,458.08 L265.5,458.08 L267.0,458.08 L268.5,458.09 L270.0,458.09 L271.5,458.09 L273.0,458.09 L274.5,458.09 L276.0,458.09 L277.5,458.09 L279.0,458.10 L280.5,458.10 L282.0,458.10 L283.5,458.10 L285.0,458.10 L286.5,458.10 L288.0,458.11 L289.5,458.11 L291.0,458.11 L292.5,458.11 L294.0,458.11 L295.5,458.12 L297.0,458.12 L298.5,458.12 L300.0,458.12 L301.5,458.13 L303.0,458.13 L304.5,458.13 L306.0,458.14 L307.5,458.14 L309.0,458.14 L310.5,458.15 L312.0,458.15 L313.5,458.15 L315.0,458.15 L316.5,458.16 L318.0,458.16 L319.5,458.17 L321.0,458.17 L322.5,458.17 L324.0,458.18 L325.5,458.18 L327.0,458.18 L328.5,458.19 L330.0,458.19 L331.5,458.20 L333.0,458.20 L334.5,458.21 L336.0,458.21 L337.5,458.22 L339.0,458.22 L340.5,458.23 L342.0,458.23 L343.5,458.23 L345.0,458.24 L346.5,458.25 L348.0,458.25 L349.5,458.26 L351.0,458.26 L352.5,458.27 L354.0,458.27 L355.5,458.28 L357.0,458.28 L358.5,458.29 L360.0,458.30 L361.5,458.30 L363.0,458.31 L364.5,458.31 L366.0,458.32 L367.5,458.33 L369.0,458.33 L370.5,458.34 L372.0,458.35 L373.5,458.35 L375.0,458.36 L376.5,458.37 L378.0,458.37 L379.5,458.38 L381.0,458.39 L382.5,458.39 L384.0,458.40 L385.5,458.41 L387.0,458.42 L388.5,458.42 L390.0,458.43 L391.5,458.44 L393.0,458.45 L394.5,458.46 L396.0,458.46 L397.5,458.47 L399.0,458.48 L400.5,458.49 L402.0,458.50 L403.5,458.51 L405.0,458.51 L406.5,458.52 L408.0,458.53 L409.5,458.54 L411.0,458.55 L412.5,458.56 L414.0,458.57 L415.5,458.58 L417.0,458.59 L418.5,458.60 L420.0,458.61 L421.5,458.62 L423.0,458.63 L424.5,458.64 L426.0,458.65 L427.5,458.66 L429.0,458.67 L430.5,458.68 L432.0,458.69 L433.5,458.70 L435.0,458.71 L436.5,458.72 L438.0,458.73 L439.5,458.74 L441.0,458.75 L442.5,458.76 L444.0,458.77 L445.5,458.79 L447.0,458.80 L448.5,458.81 L450.0,458.82 L451.5,458.83 L453.0,458.84 L454.5,458.86 L456.0,458.87 L457.5,458.88 L459.0,458.89 L460.5,458.91 L462.0,458.92 L463.5,458.93 L465.0,458.94 L466.5,458.96 L468.0,458.97 L469.5,458.98 L471.0,459.00 L472.5,459.01 L474.0,459.02 L475.5,459.04 L477.0,459.05 L478.5,459.06 L480.0,459.08 L481.5,459.09 L483.0,459.11 L484.5,459.12 L486.0,459.13 L487.5,459.15 L489.0,459.16 L490.5,459.18 L492.0,459.19 L493.5,459.21 L495.0,459.22 L496.5,459.24 L498.0,459.25 L499.5,459.26 L501.0,459.27 L502.5,459.29 L504.0,459.30 L505.5,459.31 L507.0,459.32 L508.5,459.32 L510.0,459.33 L511.5,459.34 L513.0,459.34 L514.5,459.34 L516.0,459.34 L517.5,459.34 L519.0,459.34 L520.5,459.33 L522.0,459.32 L523.5,459.31 L525.0,459.30 L526.5,459.28 L528.0,459.27 L529.5,459.25 L531.0,459.22 L532.5,459.19 L534.0,459.16 L535.5,459.13 L537.0,459.09 L538.5,459.05 L540.0,459.01 L541.5,458.96 L543.0,458.91 L544.5,458.86 L546.0,458.80 L547.5,458.73 L549.0,458.67 L550.5,458.59 L552.0,458.52 L553.5,458.44 L555.0,458.36 L556.5,458.27 L558.0,458.18 L559.5,458.08 L561.0,457.98 L562.5,457.88 L564.0,457.77 L565.5,457.66 L567.0,457.55 L568.5,457.43 L570.0,457.31 L571.5,457.18 L573.0,457.05 L574.5,456.92 L576.0,456.78 L577.5,456.64 L579.0,456.50 L580.5,456.35 L582.0,456.20 L583.5,456.04 L585.0,455.89 L586.5,455.72 L588.0,455.56 L589.5,455.39 L591.0,455.22 L592.5,455.05 L594.0,454.87 L595.5,454.70 L597.0,454.52 L598.5,454.33 L600.0,454.15 L601.5,453.96 L603.0,453.77 L604.5,453.59 L606.0,453.39 L607.5,453.20 L609.0,453.01 L610.5,452.81 L612.0,452.61 L613.5,452.42 L615.0,452.22 L616.5,452.02 L618.0,451.82 L619.5,451.62 L621.0,451.42 L622.5,451.22 L624.0,451.01 L625.5,450.81 L627.0,450.61 L628.5,450.41 L630.0,450.20 L631.5,450.00 L633.0,449.79 L634.5,449.59 L636.0,449.38 L637.5,449.18 L639.0,448.97 L640.5,448.77 L642.0,448.56 L643.5,448.35 L645.0,448.15 L646.5,447.94 L648.0,447.73 L649.5,447.53 L651.0,447.32 L652.5,447.11 L654.0,446.91 L655.5,446.70 L657.0,446.49 L658.5,446.28 L660.0,446.08 L661.5,445.87 L663.0,445.66 L664.5,445.46 L666.0,445.25 L667.5,445.04 L669.0,444.84 L670.5,444.63 L672.0,444.43 L673.5,444.22 L675.0,444.02 L676.5,443.81 L678.0,443.61 L679.5,443.40 L681.0,443.20 L682.5,443.00 L684.0,442.79 L685.5,442.59 L687.0,442.39 L688.5,442.19 L690.0,441.99 L691.5,441.79 L693.0,441.59 L694.5,441.39 L696.0,441.19 L697.5,440.99 L699.0,440.79 L700.5,440.60 L702.0,440.40 L703.5,440.21 L705.0,440.01 L706.5,439.82 L708.0,439.63 L709.5,439.44 L711.0,439.25 L712.5,439.06 L714.0,438.87 L715.5,438.68 L717.0,438.49 L718.5,438.31 L720.0,438.12 L721.5,437.94 L723.0,437.75 L724.5,437.57 L726.0,437.39 L727.5,437.21 L729.0,437.03 L730.5,436.86 L732.0,436.68 L733.5,436.50 L735.0,436.33 L736.5,436.16 L738.0,435.99 L739.5,435.82 L741.0,435.65 L742.5,435.48 L744.0,435.32 L745.5,435.15 L747.0,434.99 L748.5,434.83 L750.0,434.67 L751.5,434.51 L753.0,434.35 L754.5,434.20 L756.0,434.05 L757.5,433.89 L759.0,433.74 L760.5,433.59 L762.0,433.45 L763.5,433.30 L765.0,433.16 L766.5,433.02 L768.0,432.88 L769.5,432.74 L771.0,432.60 L772.1,432.50"/>
<rect class="t" x="151.5" y="62.5" width="641.25" height="452.25" stroke-linejoin="miter"/>
<text x="139.1" y="521.75" text-anchor="end">-2e+17</text>
<text x="139.1" y="465.22" text-anchor="end">0</text>
<text x="139.1" y="408.69" text-anchor="end">2e+17</text>
<text x="139.1" y="352.16" text-anchor="end">4e+17</text>
<text x="139.1" y="295.62" text-anchor="end">6e+17</text>
<text x="139.1" y="239.09" text-anchor="end">8e+17</text>
<text x="139.1" y="182.56" text-anchor="end">1e+18</text>
<text x="139.1" y="126.03" text-anchor="end">1.2e+18</text>
<text x="139.1" y="69.50" text-anchor="end">1.4e+18</text>
<text x="154.60" y="543" text-anchor="middle">0</text>
<text x="225.85" y="543" text-anchor="middle">200</text>
<text x="297.10" y="543" text-anchor="middle">400</text>
<text x="368.35" y="543" text-anchor="middle">600</text>
<text x="439.60" y="543" text-anchor="middle">800</text>
<text x="510.85" y="543" text-anchor="middle">1000</text>
<text x="582.10" y="543" text-anchor="middle">1200</text>
<text x="653.35" y="543" text-anchor="middle">1400</text>
<text x="724.60" y="543" text-anchor="middle">1600</text>
<text x="795.85" y="543" text-anchor="middle">1800</text>
<text x="471.7" y="38.1" text-anchor="middle" textLength="566" lengthAdjust="spacing">Total volume energy and energy flux through transition region</text>
<text x="471.8" y="572.8" text-anchor="middle">t [s]</text>
<text transform="translate(23.6,288.3) rotate(-90)" text-anchor="middle">Energy difference from inital state</text>
<path class="c" stroke="#ff0000" d="M276,80.00H333.2"/>
<text x="264" y="85.10" text-anchor="end">E<tspan font-size="16.60px" dy="5.8">kin</tspan></text>
<path class="c" stroke="#00ff00" d="M276,100.75H333.2"/>
<text x="264" y="105.85" text-anchor="end">E<tspan font-size="16.60px" dy="5.8">mag</tspan></text>
<path class="c" stroke="#0000ff" d="M276,121.50H333.2"/>
<text x="264" y="126.60" text-anchor="end">E<tspan font-size="16.60px" dy="5.8">the</tspan></text>
<path class="c" stroke="#ff00ff" d="M276,142.25H333.2"/>
<text x="264" y="147.35" text-anchor="end">flux E<tspan font-size="16.60px" dy="5.8">kin</tspan></text>
<path class="c" stroke="#00ffff" d="M276,163.00H333.2"/>
<text x="264" y="168.10" text-anchor="end">flux E<tspan font-size="16.60px" dy="5.8">mag</tspan></text>
<path class="c" stroke="#c0c0c0" d="M276,183.75H333.2"/>
<text x="264" y="188.85" text-anchor="end">flux E<tspan font-size="16.60px" dy="5.8">the</tspan></text>
</svg></body></html>
